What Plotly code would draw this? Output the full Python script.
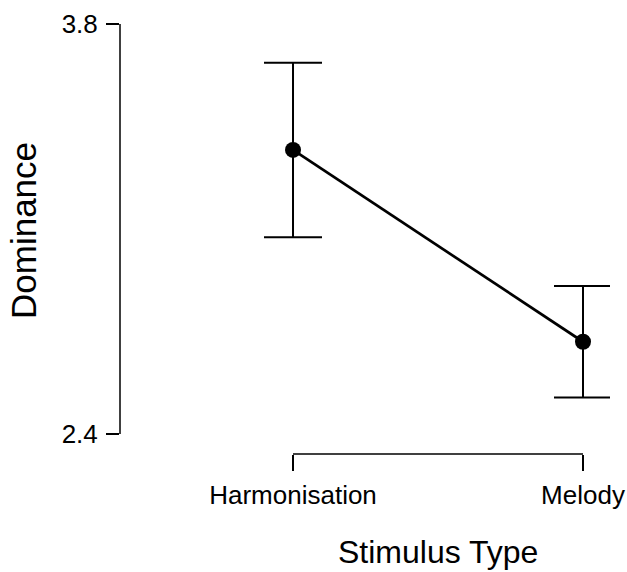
import plotly.graph_objects as go

categories = ["Harmonisation", "Melody"]
means = [3.370, 2.715]
errors = [0.298, 0.19]
y_ticks = [2.4, 3.8]
y_tick_labels = ["2.4", "3.8"]
x_title = "Stimulus Type"
y_title = "Dominance"

xpos = list(range(len(categories)))
font_family = "Liberation Sans, Arial, sans-serif"

fig = go.Figure()
fig.add_trace(go.Scatter(
    x=xpos, y=means, mode="lines+markers",
    line=dict(color="black", width=2.7),
    marker=dict(color="black", size=16),
    error_y=dict(type="data", array=errors, visible=True, color="black", thickness=2, width=29),
    showlegend=False,
))

fig.update_layout(
    template="none",
    width=627, height=572,
    margin=dict(l=120, r=17, t=20, b=118, autoexpand=False),
    paper_bgcolor="white", plot_bgcolor="white",
    font=dict(family=font_family, color="black"),
    xaxis=dict(range=[-0.5966, 1.0931], tickvals=xpos, ticktext=categories,
               showgrid=False, zeroline=False, showline=False, automargin=False,
               ticks="outside", ticklen=16, tickwidth=1.5, tickcolor="black",
               tickfont=dict(size=26), ticklabelstandoff=2),
    yaxis=dict(range=[2.3317, 3.8137], tickvals=y_ticks, ticktext=y_tick_labels,
               showgrid=False, zeroline=False, showline=False, automargin=False,
               ticks="outside", ticklen=13, tickwidth=1.5, tickcolor="black",
               tickfont=dict(size=26), ticklabelstandoff=3),
    shapes=[
        dict(type="line", xref="x", yref="paper", x0=0, x1=1, y0=0, y1=0,
             line=dict(color="black", width=1.5)),
        dict(type="line", xref="paper", yref="y", x0=0, x1=0, y0=2.4, y1=3.8,
             line=dict(color="black", width=1.5)),
    ],
    annotations=[
        dict(text=x_title, xref="paper", yref="paper", x=(437.5 - 120) / 490, y=-(552 - 454) / 434,
             showarrow=False, xanchor="center", yanchor="middle", font=dict(size=32)),
        dict(text=y_title, xref="paper", yref="paper", x=(24 - 120) / 490, y=(454 - 231) / 434,
             showarrow=False, xanchor="center", yanchor="middle", textangle=-90, font=dict(size=35)),
    ],
)

fig.write_html("out.html")
